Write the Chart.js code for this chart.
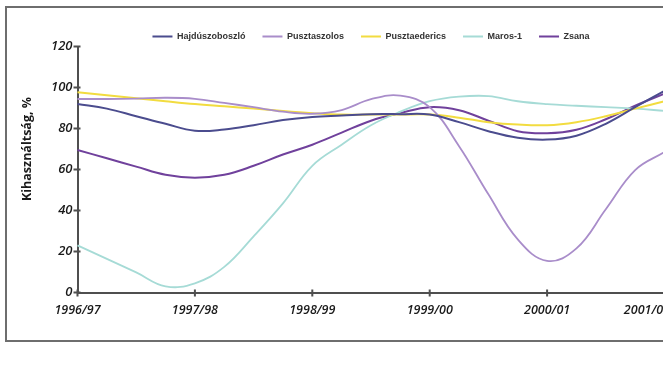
<!DOCTYPE html>
<html>
<head>
<meta charset="utf-8">
<script src="https://cdn.jsdelivr.net/npm/chart.js@4.4.1/dist/chart.umd.min.js"></script>
<style>
  html, body { margin: 0; padding: 0; background: #ffffff; overflow: hidden; width: 663px; height: 372px; }
  #frame { position: absolute; left: 5px; top: 6px; width: 900px; height: 332px; border-left: 2px solid #6e6e6e; border-top: 2px solid #6e6e6e; border-bottom: 2px solid #6e6e6e; }
  #wrap { position: absolute; left: 0; top: 0; width: 720px; height: 372px; }
</style>
</head>
<body>
<div id="frame"></div>
<div id="wrap"><canvas id="c"></canvas></div>
<script>
// Season tick labels (one per year)
const seasons = ['1996/97', '1997/98', '1998/99', '1999/00', '2000/01', '2001/02'];
const samplesPerSeason = 4; // quarterly readings between season ticks

// Series values (utilisation %, quarterly readings)
const hajduszoboszlo = [92, 89.7, 86, 82.3, 78.9, 79.5, 81.6, 84.1, 85.6, 86.3, 87, 87, 86.8, 83.1, 78.7, 75.5, 74.6, 76.5, 82.3, 90.4, 98.4];
const pusztaszolos   = [94.4, 94.4, 94.6, 95, 94.5, 92.5, 90.4, 88.2, 87.2, 89, 94.3, 96, 90.4, 71.4, 47.9, 25.9, 15.4, 21.5, 40.6, 59.7, 68.5];
const pusztaederics  = [97.7, 96.2, 94.8, 93.3, 91.9, 90.8, 89.7, 88.5, 87.5, 86.8, 86.8, 86.8, 86.8, 85.3, 83.1, 81.9, 81.6, 83.1, 86, 89.7, 93.3];
const maros1         = [23, 16.4, 9.8, 3, 4.5, 12.5, 27.4, 43.5, 61.8, 72.1, 81.6, 88.2, 93.3, 95.5, 95.8, 93.3, 91.9, 91.1, 90.4, 89.7, 88.6];
const zsana          = [69.5, 65.5, 61.4, 57.4, 56, 57.4, 61.8, 67.3, 72.1, 78, 83.8, 87.5, 90.4, 88.9, 83.8, 78.7, 77.7, 79.4, 84.5, 91.1, 97];

const seriesNames = ['Hajdúszoboszló', 'Pusztaszolos', 'Pusztaederics', 'Maros-1', 'Zsana'];
const yTicks = [0, 20, 40, 60, 80, 100, 120];
const axisTitle = 'Kihasználtság, %';

// build category labels for every quarterly sample
const labels = [];
for (let k = 0; k < hajduszoboszlo.length; k++) {
  labels.push(k % samplesPerSeason === 0 ? seasons[k / samplesPerSeason] : '');
}

const colors = ['#4b4c8e', '#a98dca', '#f2dc40', '#a6dbd6', '#70419c'];
const widths = [2, 1.8, 2, 1.8, 2];
const values = [hajduszoboszlo, pusztaszolos, pusztaederics, maros1, zsana];

const datasets = seriesNames.map((name, i) => ({
  label: name,
  data: values[i],
  borderColor: colors[i],
  backgroundColor: colors[i],
  borderWidth: widths[i],
  pointRadius: 0,
  pointHoverRadius: 0,
  tension: 0.4,
  fill: false
}));

const AXIS_COLOR = '#4f4f4f';
const LABEL_FONT = 'italic 600 12.5px "Open Sans"';
const OUTER_RIGHT = 670; // labels are kept inside the original chart's outer edge

const extras = {
  id: 'extras',
  beforeInit(chart) {
    const fit = chart.legend.fit;
    chart.legend.fit = function () {
      fit.call(this);
      this.height -= 4.5;
    };
  },
  afterDraw(chart) {
    const { ctx } = chart;
    const x = chart.scales.x, y = chart.scales.y;
    ctx.save();
    ctx.strokeStyle = AXIS_COLOR;
    ctx.lineWidth = 2;
    ctx.beginPath();
    labels.forEach((lab, i) => {
      if (!lab) return;
      const px = x.getPixelForValue(i);
      ctx.moveTo(px, x.top - 3);
      ctx.lineTo(px, x.top + 4);
    });
    yTicks.forEach(v => {
      const py = y.getPixelForValue(v);
      ctx.moveTo(y.right - 4, py);
      ctx.lineTo(y.right + 3, py);
    });
    ctx.stroke();
    // category labels (edge label kept inside the outer chart border)
    ctx.fillStyle = '#1a1a1a';
    ctx.font = LABEL_FONT;
    ctx.textAlign = 'center';
    ctx.textBaseline = 'middle';
    labels.forEach((lab, i) => {
      if (!lab) return;
      const w = ctx.measureText(lab).width;
      let px = x.getPixelForValue(i);
      px = Math.min(px, OUTER_RIGHT - w / 2);
      ctx.fillText(lab, px, x.top + 18);
    });
    // y axis title, centred at the 70 % level
    ctx.translate(27, y.getPixelForValue(70));
    ctx.rotate(-Math.PI / 2);
    ctx.fillStyle = '#1a1a1a';
    ctx.font = 'bold 12.5px "Open Sans"';
    ctx.fillText(axisTitle, 0, 0);
    ctx.restore();
  }
};

new Chart(document.getElementById('c'), {
  type: 'line',
  data: { labels, datasets },
  plugins: [extras],
  options: {
    responsive: true,
    maintainAspectRatio: false,
    animation: false,
    devicePixelRatio: 1,
    layout: { padding: { top: 15, left: 0, right: 55.5, bottom: 49.5 } },
    plugins: {
      tooltip: { enabled: false },
      legend: {
        position: 'top',
        fullSize: false,
        labels: {
          usePointStyle: true,
          pointStyle: 'line',
          pointStyleWidth: 20,
          padding: 17,
          color: '#333333',
          font: { family: '"Liberation Sans", Arial, sans-serif', weight: 'bold', size: 9 }
        }
      }
    },
    scales: {
      x: {
        type: 'category',
        offset: false,
        afterFit(scale) { scale.height = 30; },
        grid: { display: false, drawTicks: false },
        border: { display: true, color: AXIS_COLOR, width: 2 },
        ticks: { display: false, autoSkip: false, maxRotation: 0 }
      },
      y: {
        min: 0,
        max: 120,
        afterFit(scale) { scale.width = 77.5; },
        afterBuildTicks(scale) { scale.ticks = yTicks.map(v => ({ value: v })); },
        grid: { display: false, drawTicks: false },
        border: { display: true, color: AXIS_COLOR, width: 2 },
        ticks: {
          padding: 5,
          color: '#1a1a1a',
          font: { family: '"Open Sans"', style: 'italic', weight: '600', size: 13 }
        }
      }
    }
  }
});
</script>
</body>
</html>
